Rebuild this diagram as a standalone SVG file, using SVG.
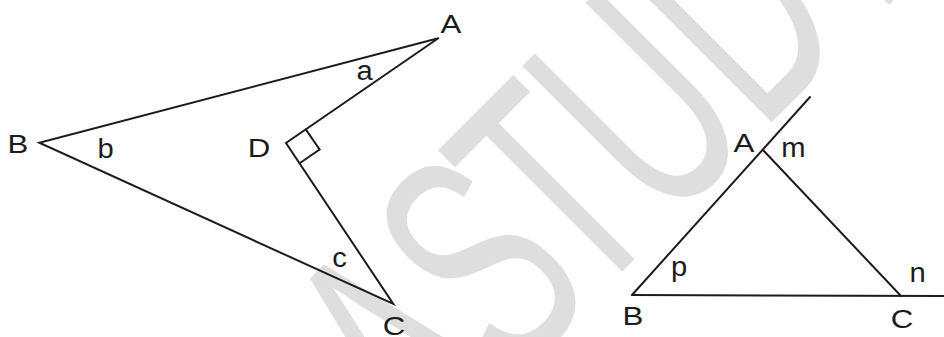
<svg xmlns="http://www.w3.org/2000/svg" width="944" height="337" viewBox="0 0 944 337">
<style>
.wm{font-family:"Liberation Sans",Arial,sans-serif;font-size:314px;fill:#dedede;text-anchor:middle}
.ln{stroke:#1c1c1c;stroke-width:2;fill:none;stroke-linecap:round;stroke-linejoin:miter}
.cap{font-family:"Liberation Sans",Arial,sans-serif;font-size:25px;fill:#1c1c1c;text-anchor:middle}
.low{font-family:"Liberation Sans",Arial,sans-serif;font-size:27px;fill:#1c1c1c;text-anchor:middle}
</style>
<rect width="944" height="337" fill="#ffffff"/>
<g id="watermark">
<text class="wm" transform="rotate(-45) scale(0.6 1)" y="632"><tspan x="53">A</tspan><tspan x="258">S</tspan><tspan x="428">T</tspan><tspan x="627">U</tspan><tspan x="853">D</tspan><tspan x="1057">Y</tspan></text>
</g>
<g id="figure-1">
<g id="connectors-1">
<path class="ln" d="M438.3,38.3 L39.3,142.7 L393.3,304 L286,143 L438.3,38.3"/>
<path class="ln" d="M305.8,129.4 L319.6,149.5 L299.6,163.2"/>
</g>
<g id="labels-1">
<text class="cap" transform="translate(451 33) scale(1.25 1)">A</text>
<text class="cap" transform="translate(18 153) scale(1.25 1)">B</text>
<text class="cap" transform="translate(259 157) scale(1.25 1)">D</text>
<text class="cap" transform="translate(394 335) scale(1.25 1)">C</text>
<text class="low" transform="translate(364.5 80) scale(1.08 1)">a</text>
<text class="low" transform="translate(105.5 158) scale(1.08 1)">b</text>
<text class="low" transform="translate(339.5 267) scale(1.08 1)">c</text>
</g>
</g>
<g id="figure-2">
<g id="connectors-2">
<path class="ln" d="M632,295 L810,97"/>
<path class="ln" d="M763,150 L901,296"/>
<path class="ln" d="M632,295 L944,296"/>
</g>
<g id="labels-2">
<text class="cap" transform="translate(744 152) scale(1.25 1)">A</text>
<text class="cap" transform="translate(633 325) scale(1.25 1)">B</text>
<text class="cap" transform="translate(902 328) scale(1.25 1)">C</text>
<text class="low" transform="translate(793.5 157) scale(1.08 1)">m</text>
<text class="low" transform="translate(679 276) scale(1.08 1)">p</text>
<text class="low" transform="translate(917.5 282) scale(1.08 1)">n</text>
</g>
</g>
</svg>
